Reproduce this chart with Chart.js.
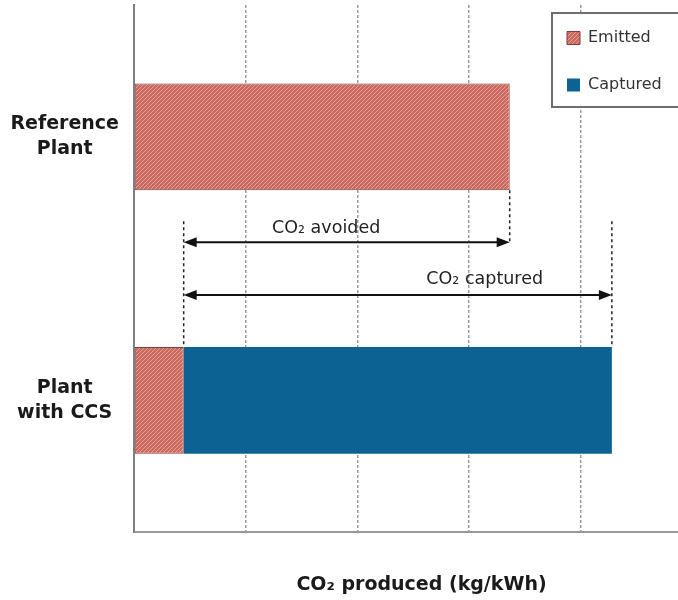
<!DOCTYPE html>
<html>
<head>
<meta charset="utf-8">
<script src="https://cdn.jsdelivr.net/npm/chart.js@4/dist/chart.umd.min.js"></script>
<style>
html,body{margin:0;padding:0;background:#fff;overflow:hidden;}
#wrap{position:relative;width:710px;height:600px;}
</style>
</head>
<body>
<div id="wrap"><canvas id="c" width="710" height="600"></canvas></div>
<script>
// ---- data ----
const categories = [['Reference', 'Plant'], ['Plant', 'with CCS']];
const seriesNames = ['Emitted', 'Captured'];
const emitted = [0.673, 0.089];
const captured = [0, 0.767];
const axisTitle = 'CO₂ produced (kg/kWh)';
const annotationLabels = ['CO₂ avoided', 'CO₂ captured'];
const xMin = 0, xMax = 1.03, xStep = 0.2;

// ---- styles ----
function hatchPattern() {
  const s = 4;
  const c = document.createElement('canvas');
  c.width = s; c.height = s;
  const g = c.getContext('2d');
  g.fillStyle = '#cb6a60';
  g.fillRect(0, 0, s, s);
  g.strokeStyle = '#e39e95';
  g.lineWidth = 1;
  g.beginPath();
  for (const k of [-s, 0, s]) { g.moveTo(k, s); g.lineTo(k + s, 0); }
  g.stroke();
  return document.getElementById('c').getContext('2d').createPattern(c, 'repeat');
}
const emittedFill = hatchPattern();
const capturedColor = '#0b6293';
const FONT = 'DejaVu Sans';
const legendFrame = { left: 552, top: 13, width: 175, height: 94, insetX: 15, insetY: 17 };

const legendPlacer = {
  id: 'legendPlacer',
  afterLayout(chart) {
    const lg = chart.legend;
    if (!lg) return;
    const pad = lg.options.labels.padding;
    const h = lg.height;
    lg.left = legendFrame.left + legendFrame.insetX - pad;
    lg.top = legendFrame.top + legendFrame.insetY - pad;
    lg.right = lg.left + 220;
    lg.bottom = lg.top + Math.max(h, 200);
    lg.width = lg.right - lg.left;
    lg.height = lg.bottom - lg.top;
    if (!lg._framed) {
      const orig = lg.draw.bind(lg);
      lg.draw = function (area) {
        const c = chart.ctx;
        c.save();
        c.fillStyle = '#ffffff';
        c.fillRect(legendFrame.left, legendFrame.top, legendFrame.width, legendFrame.height);
        c.lineWidth = 2;
        c.strokeStyle = '#6e6e6e';
        c.strokeRect(legendFrame.left, legendFrame.top, legendFrame.width, legendFrame.height);
        c.restore();
        orig(area);
      };
      lg._framed = true;
    }
  }
};

function arrowHead(ctx, x, y, dir) {
  const len = 13, hw = 5;
  ctx.beginPath();
  ctx.moveTo(x, y);
  ctx.lineTo(x - dir * len, y - hw);
  ctx.lineTo(x - dir * len, y + hw);
  ctx.closePath();
  ctx.fill();
}
function dimArrow(ctx, x1, x2, y) {
  ctx.save();
  ctx.strokeStyle = '#111'; ctx.fillStyle = '#111'; ctx.lineWidth = 2;
  ctx.beginPath(); ctx.moveTo(x1 + 6, y); ctx.lineTo(x2 - 6, y); ctx.stroke();
  arrowHead(ctx, x1, y, -1);
  arrowHead(ctx, x2, y, 1);
  ctx.restore();
}
function dashV(ctx, x, y1, y2) {
  ctx.save();
  ctx.strokeStyle = '#222'; ctx.lineWidth = 1.5; ctx.setLineDash([3, 3]);
  ctx.beginPath(); ctx.moveTo(x, y1); ctx.lineTo(x, y2); ctx.stroke();
  ctx.restore();
}

const annotations = {
  id: 'annotations',
  afterDatasetsDraw(chart) {
    const { ctx, scales: { x, y } } = chart;
    const refBar = chart.getDatasetMeta(0).data[0].getProps(['y', 'height'], true);
    const ccsBar = chart.getDatasetMeta(0).data[1].getProps(['y', 'height'], true);
    const refBottom = refBar.y + refBar.height / 2;
    const ccsTop = ccsBar.y - ccsBar.height / 2;
    const xLow = x.getPixelForValue(emitted[1]);
    const xRef = x.getPixelForValue(emitted[0]);
    const xTot = x.getPixelForValue(emitted[1] + captured[1]);
    const yAvoid = y.getPixelForValue(0.4);
    const yCapt = y.getPixelForValue(0.6);
    const yDashTop = y.getPixelForValue(0.32);

    dashV(ctx, xLow, yDashTop, ccsTop);
    dashV(ctx, xTot, yDashTop, ccsTop);
    dashV(ctx, xRef, refBottom, yAvoid);
    dimArrow(ctx, xLow, xRef, yAvoid);
    dimArrow(ctx, xLow, xTot, yCapt);

    ctx.save();
    ctx.fillStyle = '#222';
    ctx.font = '17.5px "' + FONT + '"';
    ctx.textAlign = 'center';
    ctx.textBaseline = 'alphabetic';
    ctx.fillText(annotationLabels[0], xLow + 0.437 * (xRef - xLow), y.getPixelForValue(0.364));
    ctx.fillText(annotationLabels[1], xLow + 0.703 * (xTot - xLow), y.getPixelForValue(0.56));
    ctx.restore();
  }
};

new Chart(document.getElementById('c'), {
  type: 'bar',
  data: {
    labels: categories,
    datasets: [
      { label: seriesNames[0], data: emitted, backgroundColor: emittedFill, borderColor: '#7e3f3a', borderWidth: 1, borderSkipped: false },
      { label: seriesNames[1], data: captured, backgroundColor: capturedColor, borderColor: capturedColor, borderWidth: 0 }
    ]
  },
  options: {
    indexAxis: 'y',
    responsive: false,
    animation: false,
    categoryPercentage: 1,
    barPercentage: 0.405,
    layout: { padding: { top: 5, right: 1, bottom: 0, left: 0 } },
    scales: {
      x: {
        type: 'linear', stacked: true, min: xMin, max: xMax,
        ticks: { display: false, stepSize: xStep },
        grid: { display: true, color: '#9c9c9c', lineWidth: 1.5, drawTicks: false },
        border: { display: true, color: '#999', width: 2, dash: [3, 2] },
        title: { display: true, text: axisTitle, color: '#1a1a1a', font: { family: FONT, size: 19, weight: 'bold' }, padding: { top: 41, bottom: 4 } }
      },
      y: {
        type: 'category', stacked: true,
        grid: { display: false, drawTicks: false },
        border: { display: true, color: '#808080', width: 2 },
        ticks: { crossAlign: 'center', padding: 15, color: '#1a1a1a', font: { family: FONT, size: 19, weight: 'bold', lineHeight: 1.3 } },
        afterFit(s) { s.width = 134; s.paddingTop = 0; s.paddingBottom = 0; }
      }
    },
    plugins: {
      tooltip: { enabled: false },
      legend: {
        position: 'chartArea', align: 'start',
        labels: { boxWidth: 13, boxHeight: 13, padding: 31, color: '#333333', textAlign: 'left', font: { family: FONT, size: 16 } }
      }
    }
  },
  plugins: [legendPlacer, annotations]
});
</script>
</body>
</html>
